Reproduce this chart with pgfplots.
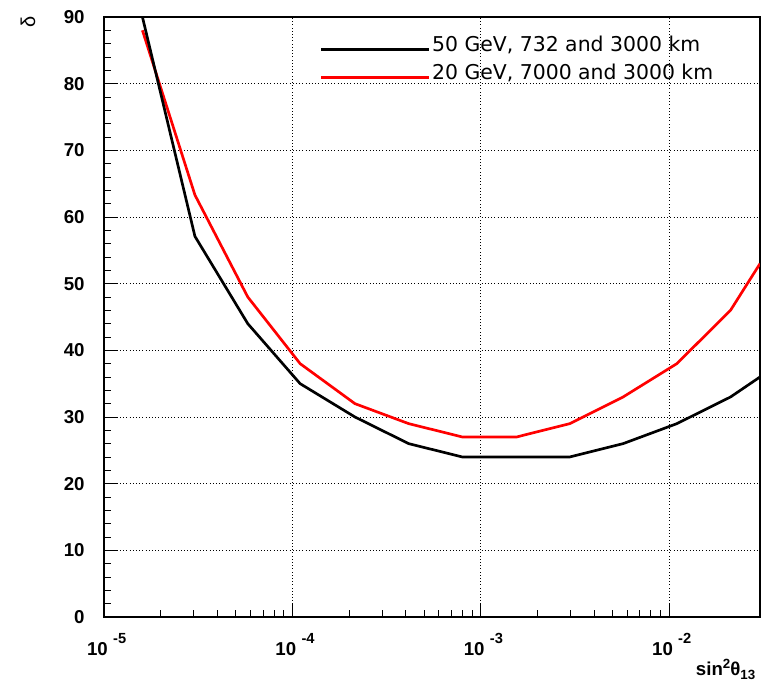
\documentclass[border=0pt]{standalone}
\usepackage{fontspec}
\setmainfont{Liberation Sans}
\newfontfamily\legfont{DejaVu Sans}
\usepackage{pgfplots}
\pgfplotsset{compat=1.18}
\newcommand\tenp[1]{10\hspace{4pt}\raisebox{9pt}{\fontsize{11}{11}\selectfont #1}}

\begin{document}
\begin{tikzpicture}
\path (-78pt,-44.25pt) rectangle (495.75pt,462.75pt);
\begin{axis}[
  at={(0pt,0pt)}, anchor=south west,
  scale only axis, width=492pt, height=450pt,
  xmode=log, xmin=1e-5, xmax=3.04e-2,
  ymin=0, ymax=90,
  axis line style={line width=0.9pt},
  tick pos=left, tick align=inside,
  major tick length=10.5pt, minor tick length=5pt,
  tick style={black, line width=0.7pt},
  xtick={1e-5,1e-4,1e-3,1e-2},
  xticklabels={\tenp{-5},\tenp{-4},\tenp{-3},\tenp{-2}},
  ytick={0,10,...,90},
  minor y tick num=4,
  grid=major,
  major grid style={black, dotted, line width=0.6pt},
  /pgf/number format/assume math mode=true,
  ticklabel style={font=\bfseries\fontsize{14}{14}\selectfont},
  xticklabel style={yshift=-9pt, xshift=2pt},
  yticklabel style={xshift=-11pt},
  xlabel={\textbf{sin\raisebox{0.7ex}{\fontsize{10}{10}\selectfont 2}θ\raisebox{-0.4ex}{\fontsize{10}{10}\selectfont 13}}},
  xlabel style={at={(rel axis cs:1,0)}, anchor=north east, yshift=-28pt, font=\fontsize{14}{14}\selectfont},
  ylabel={δ},
  ylabel style={at={(rel axis cs:0,1)}, anchor=center, yshift=57pt, xshift=-4pt, font=\fontsize{15}{15}\selectfont},
  legend image code/.code={\draw[#1] (0pt,-0.33em) -- (81pt,-0.33em);},
  legend style={at={(rel axis cs:0.323,0.975)}, anchor=north west,
    draw=none, fill=none, font=\legfont\fontsize{15.3}{17}\selectfont,
    row sep=6pt, nodes={inner sep=1pt}},
  legend cell align=left,
  reverse legend,
]
\addplot[red, line width=2pt] coordinates {
  (1.6e-5,88) (3.04e-5,63.3) (5.8e-5,48) (1.1e-4,38) (2.15e-4,32)
  (4.15e-4,29) (8.0e-4,27) (1.55e-3,27) (2.97e-3,29) (5.7e-3,33)
  (1.1e-2,38) (2.12e-2,46) (3.04e-2,53)
};
\addlegendentry{20 GeV, 7000 and 3000 km}
\addplot[black, line width=2pt] coordinates {
  (1.6e-5,90) (3.04e-5,57.1) (5.8e-5,44) (1.1e-4,35) (2.15e-4,30)
  (4.15e-4,26) (8.0e-4,24) (1.55e-3,24) (2.97e-3,24) (5.7e-3,26)
  (1.1e-2,29) (2.12e-2,33) (3.04e-2,36)
};
\addlegendentry{50 GeV, 732 and 3000 km}
\end{axis}
\end{tikzpicture}
\end{document}
